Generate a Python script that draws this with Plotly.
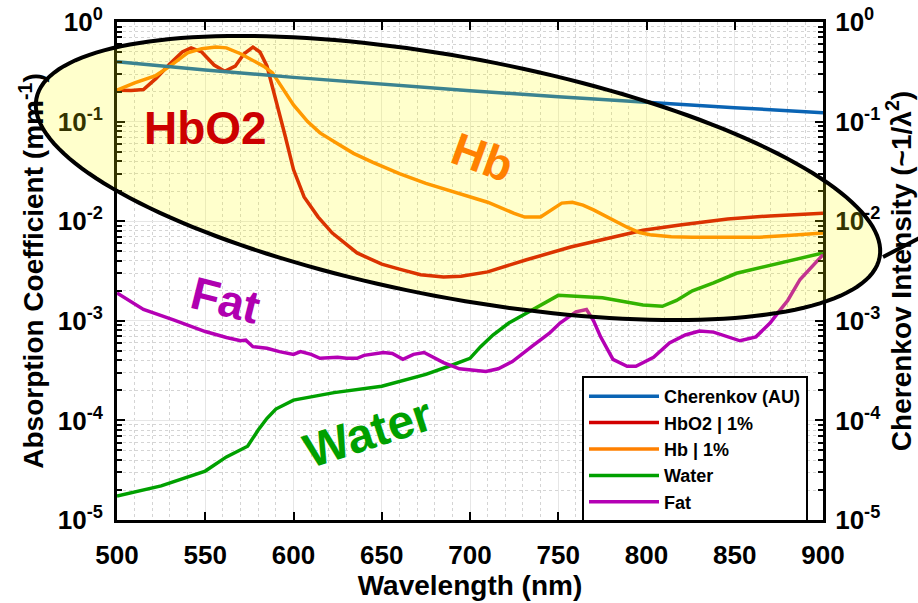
import numpy as np
import plotly.graph_objects as go

# ---------------- data ----------------
cher_wl = [500, 550, 600, 650, 700, 750, 800, 850, 900]
cher_val = [0.40, 0.33, 0.278, 0.237, 0.204, 0.178, 0.156, 0.138, 0.123]

hbo2_wl = [500, 508, 515, 522, 530, 537, 542, 548, 555, 561, 567, 572, 577, 581,
           585, 590, 595, 600, 606, 614, 622, 636, 650, 660, 672, 685, 695, 710,
           732, 757, 780, 798, 820, 846, 870, 900]
hbo2_val = [0.207, 0.205, 0.21, 0.27, 0.38, 0.50, 0.55, 0.50, 0.37, 0.32, 0.36,
            0.48, 0.56, 0.50, 0.36, 0.17, 0.075, 0.033, 0.0175, 0.011, 0.0076,
            0.0048, 0.0037, 0.0033, 0.0029, 0.00275, 0.0028, 0.0031, 0.0041,
            0.0055, 0.0068, 0.0081, 0.0092, 0.0105, 0.0113, 0.012]

hb_wl = [500, 510, 522, 530, 540, 548, 556, 562, 570, 577, 583, 588, 594, 600,
         608, 615, 625, 634, 645, 660, 675, 694, 710, 725, 731, 740, 746, 752,
         758, 764, 770, 780, 789, 796, 802, 814, 826, 850, 864, 880, 900]
hb_val = [0.207, 0.245, 0.29, 0.36, 0.49, 0.54, 0.56, 0.55, 0.48, 0.41, 0.36,
          0.31, 0.21, 0.147, 0.10, 0.077, 0.06, 0.048, 0.039, 0.030, 0.024,
          0.019, 0.0155, 0.012, 0.011, 0.011, 0.013, 0.0152, 0.0155, 0.0145,
          0.013, 0.0105, 0.0087, 0.0077, 0.0073, 0.0070, 0.0069, 0.0069,
          0.0069, 0.0072, 0.0076]

water_wl = [500, 525, 550, 562, 574, 580, 585, 590, 600, 623, 650, 675, 690,
            700, 706, 713, 722, 732, 742, 750, 775, 798, 809, 817, 826, 838,
            851, 876, 900]
water_val = [1.74e-5, 2.2e-5, 3.1e-5, 4.3e-5, 5.5e-5, 8.0e-5, 1.05e-4, 1.3e-4,
             1.6e-4, 1.9e-4, 2.2e-4, 2.9e-4, 3.6e-4, 4.2e-4, 5.5e-4, 7.2e-4,
             9.5e-4, 1.2e-3, 1.5e-3, 1.8e-3, 1.7e-3, 1.44e-3, 1.4e-3, 1.6e-3,
             2.0e-3, 2.4e-3, 3.0e-3, 3.8e-3, 4.8e-3]

fat_wl = [500, 507, 515, 532, 550, 562, 570, 573, 577, 585, 592, 600, 604, 610,
          615, 625, 630, 636, 640, 651, 656, 662, 668, 674, 685, 694, 700, 709,
          716, 724, 736, 745, 751, 760, 766, 770, 774, 781, 789, 794, 804, 813,
          822, 830, 838, 853, 862, 870, 876, 880, 887, 900]
fat_val = [1.9e-3, 1.6e-3, 1.3e-3, 1.02e-3, 7.8e-4, 6.8e-4, 6.3e-4, 6.4e-4,
           5.5e-4, 5.3e-4, 4.9e-4, 4.6e-4, 4.9e-4, 4.6e-4, 4.2e-4, 4.3e-4,
           4.2e-4, 4.2e-4, 4.5e-4, 4.8e-4, 4.7e-4, 4.1e-4, 4.6e-4, 4.8e-4,
           3.8e-4, 3.3e-4, 3.2e-4, 3.1e-4, 3.3e-4, 3.9e-4, 5.7e-4, 7.5e-4,
           9.5e-4, 1.23e-3, 1.3e-3, 1.0e-3, 6.9e-4, 4.1e-4, 3.5e-4, 3.5e-4,
           4.3e-4, 6.0e-4, 7.2e-4, 7.9e-4, 7.7e-4, 6.3e-4, 6.9e-4, 9.5e-4,
           1.3e-3, 1.6e-3, 2.6e-3, 4.6e-3]

x_ticks = [500, 550, 600, 650, 700, 750, 800, 850, 900]
y_exps = [-5, -4, -3, -2, -1, 0]
y_ticktext = ["10<sup>%d</sup>" % e for e in y_exps]

names = ["Cherenkov (AU)", "HbO2 | 1%", "Hb | 1%", "Water", "Fat"]
colors = ["#0a64b4", "#d20000", "#ff8000", "#00a000", "#b400b4"]

# ---------------- layout geometry (window pixels) ----------------
W, H = 918, 603
L, R, T, B = 117, 823, 22, 520   # plot area in window pixels


def paper(px, py):
    return (px - L) / (R - L), (B - py) / (B - T)


FONT = "Liberation Sans, Arial, sans-serif"
TICK = 26
TITLE = 28

fig = go.Figure()
series = [(cher_wl, cher_val), (hbo2_wl, hbo2_val), (hb_wl, hb_val),
          (water_wl, water_val), (fat_wl, fat_val)]
for i, ((xs, ys), nm, col) in enumerate(zip(series, names, colors)):
    fig.add_trace(go.Scatter(
        x=xs, y=ys, name=nm, mode="lines",
        line=dict(color=col, width=3.5),
        yaxis="y2" if i == 0 else "y",
    ))

y_tickvals = [10.0 ** e for e in y_exps]
y_minor = [m * 10.0 ** e for e in y_exps[:-1] for m in range(2, 10)]

common_y = dict(
    type="log", range=[-5, 0], tickmode="array", tickvals=y_tickvals,
    ticktext=y_ticktext, ticks="inside", ticklen=8, tickwidth=2,
    tickcolor="black", showline=True, linecolor="black", linewidth=3,
    tickfont=dict(family=FONT, size=TICK, color="black", weight="bold"),
    zeroline=False, automargin=False,
)

fig.update_layout(
    width=W, height=H,
    margin=dict(l=L, r=W - R, t=T, b=H - B, autoexpand=False),
    paper_bgcolor="white", plot_bgcolor="white",
    showlegend=True, hovermode=False,
    legend=dict(
        x=paper(582, 0)[0], y=paper(0, 376)[1], xanchor="left", yanchor="top",
        bgcolor="white", bordercolor="black", borderwidth=2,
        font=dict(family=FONT, size=18, color="black", weight="bold"),
        itemwidth=70, tracegroupgap=0,
    ),
    xaxis=dict(
        range=[500, 900], tickmode="array", tickvals=x_ticks,
        ticks="inside", ticklen=8, tickwidth=2, tickcolor="black",
        showline=True, linecolor="black", linewidth=3, mirror="ticks",
        tickfont=dict(family=FONT, size=TICK, color="black", weight="bold"),
        ticklabelstandoff=10, automargin=False,
        showgrid=True, gridcolor="#e6e6e6", gridwidth=1,
        minor=dict(dtick=10, showgrid=True, gridcolor="#d4d4d4",
                   griddash="dot", gridwidth=1, ticks=""),
        title=dict(text="Wavelength (nm)", standoff=6,
                   font=dict(family=FONT, size=TITLE, color="black", weight="bold")),
        zeroline=False,
    ),
    yaxis=dict(
        **common_y, side="left", mirror=True,
        ticklabelstandoff=6,
        showgrid=True, gridcolor="#e6e6e6", gridwidth=1,
        minor=dict(tickvals=y_minor, ticks="inside", ticklen=5, tickwidth=2,
                   tickcolor="black", showgrid=True, gridcolor="#d4d4d4",
                   griddash="dot", gridwidth=1),
        title=dict(text="Absorption Coefficient (mm<sup>-1</sup>)", standoff=6,
                   font=dict(family=FONT, size=TITLE, color="black", weight="bold")),
    ),
    yaxis2=dict(
        **common_y, side="right", overlaying="y", showgrid=False,
        ticklabelstandoff=4,
        minor=dict(tickvals=y_minor, ticks="inside", ticklen=5, tickwidth=2,
                   tickcolor="black", showgrid=False),
        title=dict(text="Cherenkov Intensity (~1/λ<sup>2</sup>)", standoff=4,
                   font=dict(family=FONT, size=TITLE, color="black", weight="bold")),
    ),
)

# ---------------- highlight ellipse (pixel geometry -> paper coords) ----------------
cx, cy, a, b, ang = 458.0, 178.0, 429.0, 120.0, np.deg2rad(10.65)
t = np.linspace(0, 2 * np.pi, 181)
ex = cx + a * np.cos(t) * np.cos(ang) - b * np.sin(t) * np.sin(ang)
ey = cy + a * np.cos(t) * np.sin(ang) + b * np.sin(t) * np.cos(ang)
pts = [paper(x, y) for x, y in zip(ex, ey)]
path = "M " + " L ".join("%.5f,%.5f" % p for p in pts) + " Z"
fig.add_shape(type="path", path=path, xref="paper", yref="paper",
              fillcolor="rgba(255,255,0,0.2)", line=dict(color="black", width=4),
              layer="above")
p0 = paper(883, 257)
p1 = paper(935, 230)
fig.add_shape(type="line", x0=p0[0], y0=p0[1], x1=p1[0], y1=p1[1],
              xref="paper", yref="paper", line=dict(color="black", width=4),
              layer="above")

# ---------------- curve labels ----------------
labels = [("HbO2", (205, 128), 0, "#cc0000", 46),
          ("Hb", (482, 157), 20, "#ff8000", 46),
          ("Fat", (225, 300), 14, "#b000b0", 46),
          ("Water", (368, 432), -18, "#00a000", 48)]
for txt, (px, py), rot, col, sz in labels:
    ax_, ay_ = paper(px, py)
    fig.add_annotation(x=ax_, y=ay_, xref="paper", yref="paper", text=txt,
                       showarrow=False, textangle=rot, xanchor="center",
                       yanchor="middle",
                       font=dict(family=FONT, size=sz, color=col, weight="bold"))

# remove the browser's default page margin so the figure fills the window exactly
fig.write_html("out.html",
               config={"displayModeBar": False},
               post_script="document.body.style.margin='0px';"
                           "document.body.style.overflow='hidden';")
